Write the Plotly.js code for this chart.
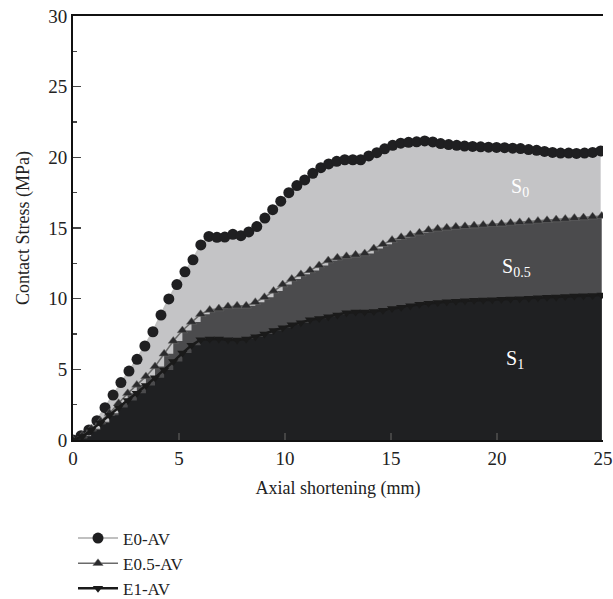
<!DOCTYPE html>
<html>
<head>
<meta charset="utf-8">
<script src="https://cdn.plot.ly/plotly-3.0.1.min.js"></script>
<style>html,body{margin:0;padding:0;background:#fff;}#chart{width:613px;height:599px;}</style>
</head>
<body>
<div id="chart"></div>
<script>
// E0-AV (circles)
const e0X = [0,0.38,0.75,1.13,1.51,1.89,2.26,2.64,3.02,3.39,3.77,4.15,4.52,4.90,5.28,5.66,6.03,6.41,6.79,7.16,7.54,7.92,8.29,8.67,9.05,9.42,9.80,10.18,10.56,10.93,11.31,11.69,12.06,12.44,12.82,13.20,13.57,13.95,14.33,14.70,15.08,15.46,15.83,16.21,16.59,16.97,17.34,17.72,18.10,18.47,18.85,19.23,19.60,19.98,20.36,20.74,21.11,21.49,21.87,22.24,22.62,23.00,23.38,23.75,24.13,24.51,24.89];
const e0Y = [0,0.3,0.71,1.37,2.29,3.18,4.06,4.88,5.71,6.65,7.66,8.84,9.98,11.0,11.9,12.75,13.8,14.4,14.34,14.36,14.55,14.46,14.72,15.1,15.7,16.3,16.9,17.5,18.0,18.4,18.87,19.27,19.53,19.72,19.83,19.83,19.83,20.1,20.33,20.6,20.85,21.0,21.06,21.1,21.16,21.09,20.97,20.9,20.85,20.8,20.77,20.74,20.72,20.7,20.68,20.65,20.62,20.55,20.5,20.42,20.35,20.3,20.3,20.28,20.3,20.35,20.45];
// E0.5-AV and E1-AV (shared abscissae)
const eX = [0,0.43,0.86,1.29,1.72,2.15,2.58,3.01,3.44,3.87,4.30,4.73,5.16,5.59,6.02,6.45,6.88,7.31,7.74,8.17,8.60,9.03,9.46,9.89,10.32,10.75,11.18,11.61,12.04,12.47,12.90,13.33,13.76,14.19,14.62,15.05,15.48,15.91,16.34,16.77,17.20,17.63,18.06,18.49,18.92,19.35,19.78,20.21,20.64,21.07,21.50,21.93,22.36,22.79,23.22,23.65,24.08,24.51,24.94];
const e05Y = [0,0.3,0.8,1.3,1.9,2.6,3.3,3.9,4.5,5.2,6.1,7.0,7.75,8.35,8.9,9.2,9.3,9.45,9.5,9.5,9.75,10.1,10.55,11.0,11.4,11.72,12.0,12.35,12.7,12.9,13.0,13.1,13.2,13.55,13.85,14.15,14.35,14.52,14.67,14.85,14.95,15.02,15.08,15.12,15.17,15.22,15.27,15.3,15.36,15.4,15.45,15.5,15.55,15.6,15.64,15.7,15.74,15.8,15.85];
const e1Y = [0,0.25,0.7,1.2,1.75,2.3,2.8,3.3,3.85,4.4,4.95,5.55,6.15,6.7,7.1,7.15,7.15,7.1,7.08,7.15,7.3,7.5,7.75,7.95,8.15,8.3,8.5,8.6,8.72,8.85,9.0,9.05,9.05,9.1,9.18,9.3,9.4,9.5,9.6,9.67,9.72,9.78,9.82,9.85,9.88,9.9,9.92,9.95,9.98,10.0,10.03,10.06,10.1,10.12,10.15,10.18,10.2,10.23,10.26];
const seriesNames = ['E0-AV','E0.5-AV','E1-AV'];
const regionLabels = ['S<sub>0</sub>','S<sub>0.5</sub>','S<sub>1</sub>'];
const labelPos = [[21.1,17.9],[20.9,12.2],[20.85,5.7]];

const FONT = 'Liberation Serif, Times New Roman, serif';
const traces = [
  {x:e0X, y:e0Y, type:'scatter', mode:'lines', fill:'tozeroy', fillcolor:'#c4c4c6', line:{width:0}, showlegend:false, hoverinfo:'skip'},
  {x:eX, y:e05Y, type:'scatter', mode:'lines', fill:'tozeroy', fillcolor:'#4b4b4d', line:{width:0, shape:'hv'}, showlegend:false, hoverinfo:'skip'},
  {x:eX, y:e1Y, type:'scatter', mode:'lines', fill:'tozeroy', fillcolor:'#1f2022', line:{width:0, shape:'hv'}, showlegend:false, hoverinfo:'skip'},
  {x:e0X, y:e0Y, type:'scatter', mode:'lines+markers', name:seriesNames[0], line:{color:'#c0c0c0', width:2}, marker:{symbol:'circle', size:11, color:'#1f1f21'}},
  {x:eX, y:e05Y, type:'scatter', mode:'lines+markers', name:seriesNames[1], line:{color:'#6a6a6a', width:1.5}, marker:{symbol:'triangle-up', size:9, color:'#2b2b2d', line:{color:'#707070', width:0.5}}},
  {x:eX, y:e1Y, type:'scatter', mode:'lines+markers', name:seriesNames[2], line:{color:'#1a1a1a', width:2.5}, marker:{symbol:'triangle-down', size:9, color:'#1a1a1a'}}
];
const annotations = regionLabels.map((t,i)=>({x:labelPos[i][0], y:labelPos[i][1], text:t, showarrow:false, font:{family:FONT, size:20, color:'#ffffff'}}));
const layout = {
  width:613, height:599,
  margin:{l:73, r:10, t:16, b:159, autoexpand:false},
  paper_bgcolor:'#ffffff', plot_bgcolor:'#ffffff',
  font:{family:FONT, size:18, color:'#222'},
  xaxis:{range:[0,25], dtick:5, tick0:0, ticks:'inside', ticklen:7, tickwidth:1.5, showline:true, linewidth:2, linecolor:'#111', mirror:true, showgrid:false, zeroline:false, automargin:false,
    title:{text:'Axial shortening (mm)', font:{family:FONT, size:18}, standoff:14}, tickfont:{family:FONT, size:19}},
  yaxis:{range:[0,30], dtick:5, tick0:0, ticks:'inside', ticklen:8, tickwidth:1.5, showline:true, linewidth:2, linecolor:'#111', showgrid:false, zeroline:false, automargin:false,
    minor:{dtick:2.5, ticks:'inside', ticklen:4, tickwidth:1.5, showgrid:false},
    title:{text:'Contact Stress (MPa)', font:{family:FONT, size:18}, standoff:14}, tickfont:{family:FONT, size:19}},
  legend:{x:0.0, y:-0.19, xanchor:'left', yanchor:'top', orientation:'v', font:{family:FONT, size:17}, bgcolor:'rgba(0,0,0,0)', tracegroupgap:0, itemwidth:40},
  annotations:annotations,
  showlegend:true
};
Plotly.newPlot('chart', traces, layout, {displayModeBar:false, staticPlot:true});
</script>
</body>
</html>
